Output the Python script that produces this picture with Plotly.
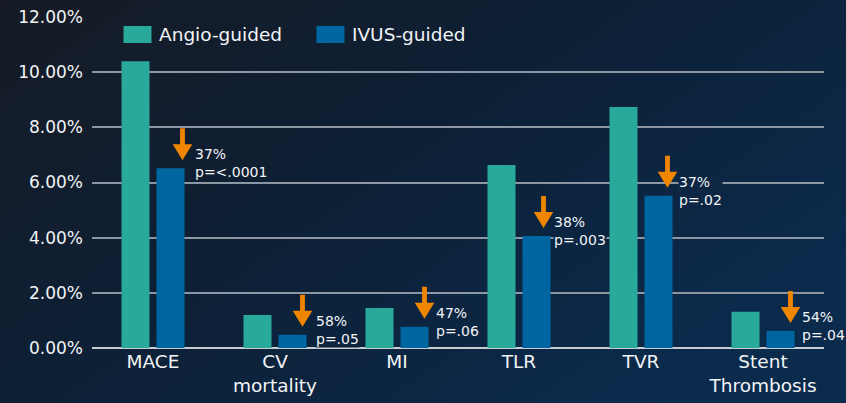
import base64
import plotly.graph_objects as go

categories = ["MACE", "CV<br>mortality", "MI", "TLR", "TVR", "Stent<br>Thrombosis"]
angio = [10.4, 1.2, 1.45, 6.63, 8.74, 1.31]
ivus = [6.52, 0.48, 0.77, 4.06, 5.52, 0.62]
reduction = ["37%", "58%", "47%", "38%", "37%", "54%"]
pvalues = ["p=<.0001", "p=.05", "p=.06", "p=.003", "p=.02", "p=.04"]
series_names = ["Angio-guided", "IVUS-guided"]
y_ticks = [0, 2, 4, 6, 8, 10, 12]
y_ticktext = ["0.00%", "2.00%", "4.00%", "6.00%", "8.00%", "10.00%", "12.00%"]

# style: small per-label horizontal nudges (px) of the reduction labels / arrows
LABEL_NUDGE = [3, 2, 0, -4, -1, 0]
ARROW_NUDGE = [2, 0, 0, -3, -1, 0]

TEAL = "#29a99a"
BLUE = "#0066a1"
ORANGE = "#f08600"
TXT = "#f2f4f6"
FONT = "DejaVu Sans"

W, H = 846, 403
ML, MR, MT, MB = 92, 22, 17, 55
PW, PH = W - ML - MR, H - MT - MB
Y0, Y1 = 0, 12

# background gradient (diagonal, dark slate -> deep blue)
G_STOPS = [(0.0, (0x16, 0x1b, 0x25)), (0.5, (0x0d, 0x20, 0x36)), (1.0, (0x0b, 0x2b, 0x4d))]
GX, GY = 1.0, 0.7


def grad_color(px, py):
    u, v = px / W, py / H
    t = (u * GX + v * GY) / (GX * GX + GY * GY)
    t = min(max(t, 0), 1)
    for (t0, c0), (t1, c1) in zip(G_STOPS, G_STOPS[1:]):
        if t <= t1:
            f = (t - t0) / (t1 - t0)
            c = [round(a + (b - a) * f) for a, b in zip(c0, c1)]
            return "#%02x%02x%02x" % tuple(c)
    return "#%02x%02x%02x" % G_STOPS[-1][1]


stops_svg = "".join(f'<stop offset="{o}" stop-color="#%02x%02x%02x"/>' % c for o, c in G_STOPS)
svg = (f'<svg xmlns="http://www.w3.org/2000/svg" width="{W}" height="{H}" preserveAspectRatio="none">'
       f'<defs><linearGradient id="g" x1="0" y1="0" x2="{GX}" y2="{GY}">{stops_svg}</linearGradient></defs>'
       f'<rect width="{W}" height="{H}" fill="url(#g)"/></svg>')
bg_uri = "data:image/svg+xml;base64," + base64.b64encode(svg.encode()).decode()

fig = go.Figure()
xs = list(range(len(categories)))
fig.add_trace(go.Bar(x=xs, y=angio, name=series_names[0], marker=dict(color=TEAL, line=dict(width=0)),
                     showlegend=False, hoverinfo="skip"))
fig.add_trace(go.Bar(x=xs, y=ivus, name=series_names[1], marker=dict(color=BLUE, line=dict(width=0)),
                     showlegend=False, hoverinfo="skip"))

shapes = []
annotations = []
AX = 27.5   # px offset of arrow from group centre
GAP = 8     # px between arrow tip and bar top
L, HL, HW, SW = 32, 16, 9.8, 2.4
for i, v in enumerate(ivus):
    ax = AX + ARROW_NUDGE[i]
    path = (f"M{ax-SW},{GAP+L} L{ax+SW},{GAP+L} L{ax+SW},{GAP+HL} L{ax+HW},{GAP+HL} "
            f"L{ax},{GAP} L{ax-HW},{GAP+HL} L{ax-SW},{GAP+HL} Z")
    shapes.append(dict(type="path", xref="x", yref="y", xsizemode="pixel", ysizemode="pixel",
                       xanchor=i, yanchor=v, path=path, fillcolor=ORANGE,
                       line=dict(width=0), layer="above"))
    # local background colour behind the label (hides gridlines like the original)
    px = ML + (i + 0.5) * PW / len(categories) + AX + 40
    py = MT + PH * (1 - (v - Y0) / (Y1 - Y0)) - GAP
    annotations.append(dict(x=i, y=v, xref="x", yref="y", text=f"{reduction[i]}<br>{pvalues[i]}",
                            showarrow=False, xanchor="left", yanchor="middle", align="left",
                            xshift=AX + 10.5 + LABEL_NUDGE[i], yshift=GAP - 3,
                            font=dict(family=FONT, size=14, color=TXT),
                            bgcolor=grad_color(px, py), borderpad=0))

# legend drawn as swatches + labels (matches the large swatches of the original)
for k, (name, col) in enumerate(zip(series_names, [TEAL, BLUE])):
    x0 = 31.5 + k * 193
    shapes.append(dict(type="path", xref="paper", yref="paper", xsizemode="pixel", ysizemode="pixel",
                       xanchor=0, yanchor=1,
                       path=f"M{x0},-9 L{x0+28},-9 L{x0+28},-26 L{x0},-26 Z",
                       fillcolor=col, line=dict(width=0)))
    annotations.append(dict(x=0, y=1, xref="paper", yref="paper", text=name, showarrow=False,
                            xanchor="left", yanchor="middle", xshift=x0 + 33, yshift=-17.5,
                            font=dict(family=FONT, size=18.5, color=TXT)))

fig.update_layout(
    width=W, height=H,
    margin=dict(l=ML, r=MR, t=MT, b=MB, autoexpand=False),
    paper_bgcolor="#0f2033", plot_bgcolor="rgba(0,0,0,0)",
    barmode="group", bargap=0.426, bargroupgap=0.2,
    shapes=shapes, annotations=annotations,
    images=[dict(source=bg_uri, xref="paper", yref="paper", x=-ML / PW, y=1 + MT / PH,
                 sizex=W / PW, sizey=H / PH, sizing="stretch", layer="below",
                 xanchor="left", yanchor="top")],
    font=dict(family=FONT, color=TXT),
)
fig.update_xaxes(tickmode="array", tickvals=xs, ticktext=categories, range=[-0.5, 5.5],
                 showgrid=False, showline=False, zeroline=False,
                 tickfont=dict(family=FONT, size=18.5, color=TXT), ticks="")
fig.update_yaxes(range=[Y0, Y1], tickmode="array", tickvals=y_ticks, ticktext=y_ticktext,
                 showgrid=True, gridcolor="#8c97a3", gridwidth=1.5,
                 zeroline=True, zerolinecolor="#c8ccd0", zerolinewidth=1.5,
                 tickfont=dict(family=FONT, size=17, color=TXT), ticks="", ticklabelstandoff=8)

fig.write_html("out.html", config={"displayModeBar": False},
               post_script="document.body.style.margin='0';document.body.style.overflow='hidden';")
